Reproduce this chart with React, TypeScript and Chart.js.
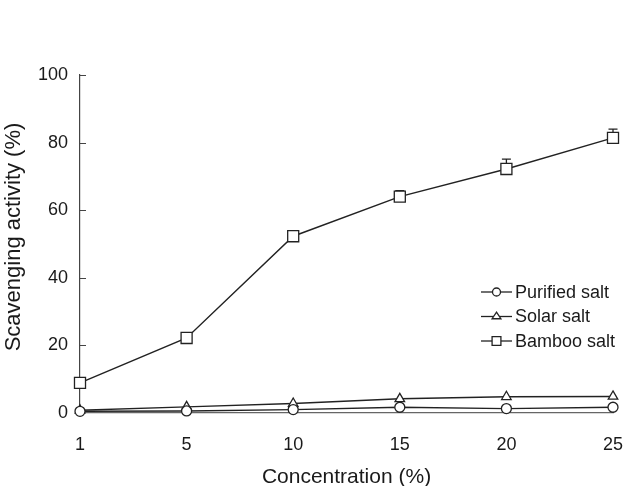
import React, { useEffect, useRef } from "react";
import { Chart, registerables } from "chart.js";

Chart.register(...registerables);

// Concentration levels (%)
const categories = ["1", "5", "10", "15", "20", "25"];
// Scavenging activity (%) for each salt
const purifiedSalt = [0.5, 0.6, 1.0, 1.7, 1.3, 1.7];
const solarSalt = [0.8, 1.8, 2.8, 4.2, 4.8, 4.9];
const bambooSalt = [8.9, 22.2, 52.3, 64.0, 72.2, 81.4];
// Standard deviation for bamboo salt
const bambooErr = [0.6, 0.8, 1.0, 1.8, 2.9, 2.6];
const yTicks = [0, 20, 40, 60, 80, 100];

const FONT = "'Liberation Sans', Arial, sans-serif";
const INK = "#222";
const TEXT = "#1a1a1a";

// Upper error bars, drawn under the markers
const errorBarPlugin = {
  id: "errorBars",
  beforeDatasetsDraw(chart: any) {
    const ctx = chart.ctx;
    const meta = chart.getDatasetMeta(2);
    const y = chart.scales.y;
    ctx.save();
    ctx.strokeStyle = INK;
    ctx.lineWidth = 1.3;
    meta.data.forEach((pt: any, i: number) => {
      const v = bambooSalt[i];
      const top = y.getPixelForValue(v + bambooErr[i]);
      const mid = y.getPixelForValue(v);
      ctx.beginPath();
      ctx.moveTo(pt.x, mid);
      ctx.lineTo(pt.x, top);
      ctx.moveTo(pt.x - 4.5, top);
      ctx.lineTo(pt.x + 4.5, top);
      ctx.stroke();
    });
    ctx.restore();
  },
};

// Inward tick marks on the value axis and the rotated value-axis title
const valueAxisPlugin = {
  id: "valueAxisExtras",
  afterDraw(chart: any) {
    const ctx = chart.ctx;
    const y = chart.scales.y;
    const x0 = chart.chartArea.left;
    ctx.save();
    ctx.strokeStyle = "#444";
    ctx.lineWidth = 1;
    yTicks.forEach((t) => {
      if (t === 0) return;
      const py = Math.round(y.getPixelForValue(t)) + 0.5;
      ctx.beginPath();
      ctx.moveTo(x0, py);
      ctx.lineTo(x0 + 6, py);
      ctx.stroke();
    });
    ctx.translate(19.5, chart.chartArea.top + 162);
    ctx.rotate(-Math.PI / 2);
    ctx.fillStyle = TEXT;
    ctx.font = `22px ${FONT}`;
    ctx.textAlign = "center";
    ctx.textBaseline = "alphabetic";
    ctx.fillText("Scavenging activity (%)", 0, 0);
    ctx.restore();
  },
};

function drawMarker(ctx: CanvasRenderingContext2D, style: string, r: number, x: number, y: number) {
  ctx.beginPath();
  if (style === "circle") {
    ctx.arc(x, y, r, 0, Math.PI * 2);
  } else if (style === "triangle") {
    const h = r * 1.5;
    ctx.moveTo(x, y - h * 0.66);
    ctx.lineTo(x + r, y + h * 0.34);
    ctx.lineTo(x - r, y + h * 0.34);
    ctx.closePath();
  } else {
    const s = r * Math.SQRT1_2;
    ctx.rect(x - s, y - s, 2 * s, 2 * s);
  }
  ctx.fill();
  ctx.stroke();
}

// Legend with a short line through each marker
const lineLegendPlugin = {
  id: "lineLegend",
  afterDraw(chart: any) {
    const ctx = chart.ctx;
    const area = chart.chartArea;
    const lx = area.right - 132;
    const ly = area.top + 217;
    const rowH = 24.5;
    ctx.save();
    chart.data.datasets.forEach((ds: any, i: number) => {
      const cy = ly + i * rowH;
      ctx.strokeStyle = INK;
      ctx.lineWidth = 1.3;
      ctx.beginPath();
      ctx.moveTo(lx, cy);
      ctx.lineTo(lx + 31, cy);
      ctx.stroke();
      ctx.fillStyle = "#fff";
      drawMarker(ctx, ds.pointStyle, ds.pointRadius * 0.8, lx + 15.5, cy);
      ctx.fillStyle = TEXT;
      ctx.font = `18px ${FONT}`;
      ctx.textBaseline = "middle";
      ctx.textAlign = "left";
      ctx.fillText(ds.label, lx + 34, cy + 1);
    });
    ctx.restore();
  },
};

export default function App() {
  const canvasRef = useRef<HTMLCanvasElement | null>(null);

  useEffect(() => {
    if (!canvasRef.current) return;
    const common = {
      borderColor: INK,
      borderWidth: 1.4,
      pointBackgroundColor: "#fff",
      pointBorderColor: INK,
      pointBorderWidth: 1.3,
      tension: 0,
      clip: false as any,
    };
    const chart = new Chart(canvasRef.current, {
      type: "line",
      data: {
        labels: categories,
        datasets: [
          { ...common, label: "Purified salt", data: purifiedSalt, pointStyle: "circle", pointRadius: 5 },
          { ...common, label: "Solar salt", data: solarSalt, pointStyle: "triangle", pointRadius: 5.5 },
          { ...common, label: "Bamboo salt", data: bambooSalt, pointStyle: "rect", pointRadius: 7.8 },
        ],
      },
      options: {
        animation: false,
        responsive: false,
        devicePixelRatio: 1,
        layout: { padding: { top: 75, right: 15, left: 0, bottom: 0 } },
        plugins: {
          legend: { display: false },
          tooltip: { enabled: false },
        },
        scales: {
          x: {
            type: "category",
            offset: false,
            grid: { display: false, drawTicks: false },
            border: { display: true, color: "#666", width: 1.2 },
            ticks: {
              color: TEXT,
              font: { family: FONT, size: 18 },
              padding: 21,
              maxRotation: 0,
            },
            title: {
              display: true,
              text: "Concentration (%)",
              color: TEXT,
              font: { family: FONT, size: 21, lineHeight: 1 },
              padding: { top: 0, bottom: -2 },
            },
            afterFit(scale: any) {
              scale.height = 73;
              scale.paddingLeft = 0;
              scale.paddingRight = 0;
            },
          },
          y: {
            min: 0,
            max: 100,
            grid: { display: false, drawTicks: false },
            border: { display: true, color: "#444", width: 1.2 },
            afterBuildTicks(scale: any) {
              scale.ticks = yTicks.map((v) => ({ value: v }));
            },
            ticks: {
              color: TEXT,
              font: { family: FONT, size: 18 },
              padding: 12,
            },
            afterFit(scale: any) {
              scale.width = 80;
              scale.paddingTop = 0;
              scale.paddingBottom = 0;
            },
          },
        },
      },
      plugins: [errorBarPlugin, valueAxisPlugin, lineLegendPlugin],
    });
    return () => chart.destroy();
  }, []);

  return (
    <div style={{ position: "absolute", left: 0, top: 0, width: 628, height: 486, background: "#fff" }}>
      <canvas ref={canvasRef} width={628} height={486} />
    </div>
  );
}
